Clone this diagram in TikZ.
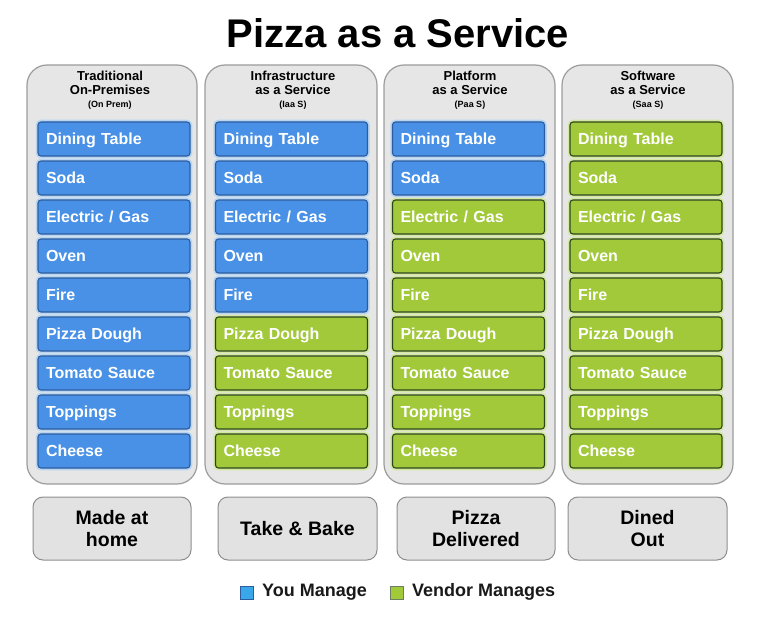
\documentclass[tikz,border=0pt]{standalone}
\usepackage{fontspec}
\setmainfont{Liberation Sans}
\definecolor{bluefill}{HTML}{4891E6}
\definecolor{bluedark}{HTML}{2D5C9E}
\definecolor{bluelight}{HTML}{B8D5F2}
\definecolor{greenfill}{HTML}{A2C93A}
\definecolor{greendark}{HTML}{2C4520}
\definecolor{greenlight}{HTML}{D4E8A2}
\definecolor{colfill}{HTML}{E6E6E6}
\definecolor{colborder}{HTML}{9C9C9C}
\definecolor{botfill}{HTML}{E2E2E2}
\definecolor{botborder}{HTML}{8E8E8E}
\begin{document}
\begin{tikzpicture}[x=1pt,y=-1pt,
  colbox/.style={draw=colborder, fill=colfill, rounded corners=20pt, line width=1.2pt},
  itembox/.style={rounded corners=3pt, line width=1.1pt, minimum width=152pt, minimum height=34pt,
    text width=136pt, align=left, inner xsep=8pt, inner ysep=0pt, text=white,
    text height=11.5pt, text depth=0pt,
    font=\fontsize{16}{17}\selectfont\bfseries},
  ybox/.style={itembox, draw=bluedark, fill=bluefill, preaction={draw=bluelight, line width=4.5pt}},
  vbox/.style={itembox, draw=greendark, fill=greenfill, preaction={draw=greenlight, line width=4.5pt}},
  head/.style={align=center, inner sep=0pt, font=\fontsize{13}{14}\selectfont\bfseries},
  botbox/.style={draw=botborder, fill=botfill, rounded corners=10pt, line width=1pt,
    minimum height=63pt, align=center, font=\fontsize{19.5}{22}\selectfont\bfseries},
  legsq/.style={line width=0.8pt, minimum size=13pt, inner sep=0pt},
  legtext/.style={anchor=west, inner sep=0pt, font=\fontsize{18}{20}\selectfont\bfseries, text=black!90}
]
\useasboundingbox (0,0) rectangle (772,618);
\node[font=\fontsize{40}{44}\selectfont\bfseries, inner sep=0pt] (title) at (398,33) {Pizza as a Service};

% columns
\draw[colbox] (27,65) rectangle (197,484);
\draw[colbox] (205,65) rectangle (377,484);
\draw[colbox] (384,65) rectangle (555,484);
\draw[colbox] (562,65) rectangle (733,484);

% headers
\node[head] (h1) at (110,90) {Traditional\\On-Premises\\[-1pt]{\fontsize{9}{10}\selectfont (On Prem)}};
\node[head] (h2) at (293,90) {Infrastructure\\as a Service\\[-1pt]{\fontsize{9}{10}\selectfont (Iaa S)}};
\node[head] (h3) at (470,90) {Platform\\as a Service\\[-1pt]{\fontsize{9}{10}\selectfont (Paa S)}};
\node[head] (h4) at (648,90) {Software\\as a Service\\[-1pt]{\fontsize{9}{10}\selectfont (Saa S)}};

% items
\foreach \c/\x/\nb in {1/114/9, 2/291.5/5, 3/468.5/2, 4/646/0} {
  \foreach \t [count=\r] in {Dining Table, Soda, Electric / Gas, Oven, Fire, Pizza Dough, Tomato Sauce, Toppings, Cheese} {
    \pgfmathsetmacro\yy{139+39*(\r-1)}
    \ifnum\r>\nb
      \node[vbox] (c\c r\r) at (\x,\yy) {\t};
    \else
      \node[ybox] (c\c r\r) at (\x,\yy) {\t};
    \fi
  }
}

% bottom boxes
\node[botbox, minimum width=158pt] (b1) at (112,528.5) {Made at\\home};
\node[botbox, minimum width=159pt] (b2) at (297.5,528.5) {Take \& Bake};
\node[botbox, minimum width=158pt] (b3) at (476,528.5) {Pizza\\Delivered};
\node[botbox, minimum width=159pt] (b4) at (647.5,528.5) {Dined\\Out};

% legend
\node[legsq, draw=bluedark, fill=bluefill!80!cyan] (ly) at (247,593) {};
\node[legtext] (lyt) at (262,592) {You Manage};
\node[legsq, draw=greendark!70, fill=greenfill] (lv) at (397,593) {};
\node[legtext] (lvt) at (412,592) {Vendor Manages};
\end{tikzpicture}
\end{document}
